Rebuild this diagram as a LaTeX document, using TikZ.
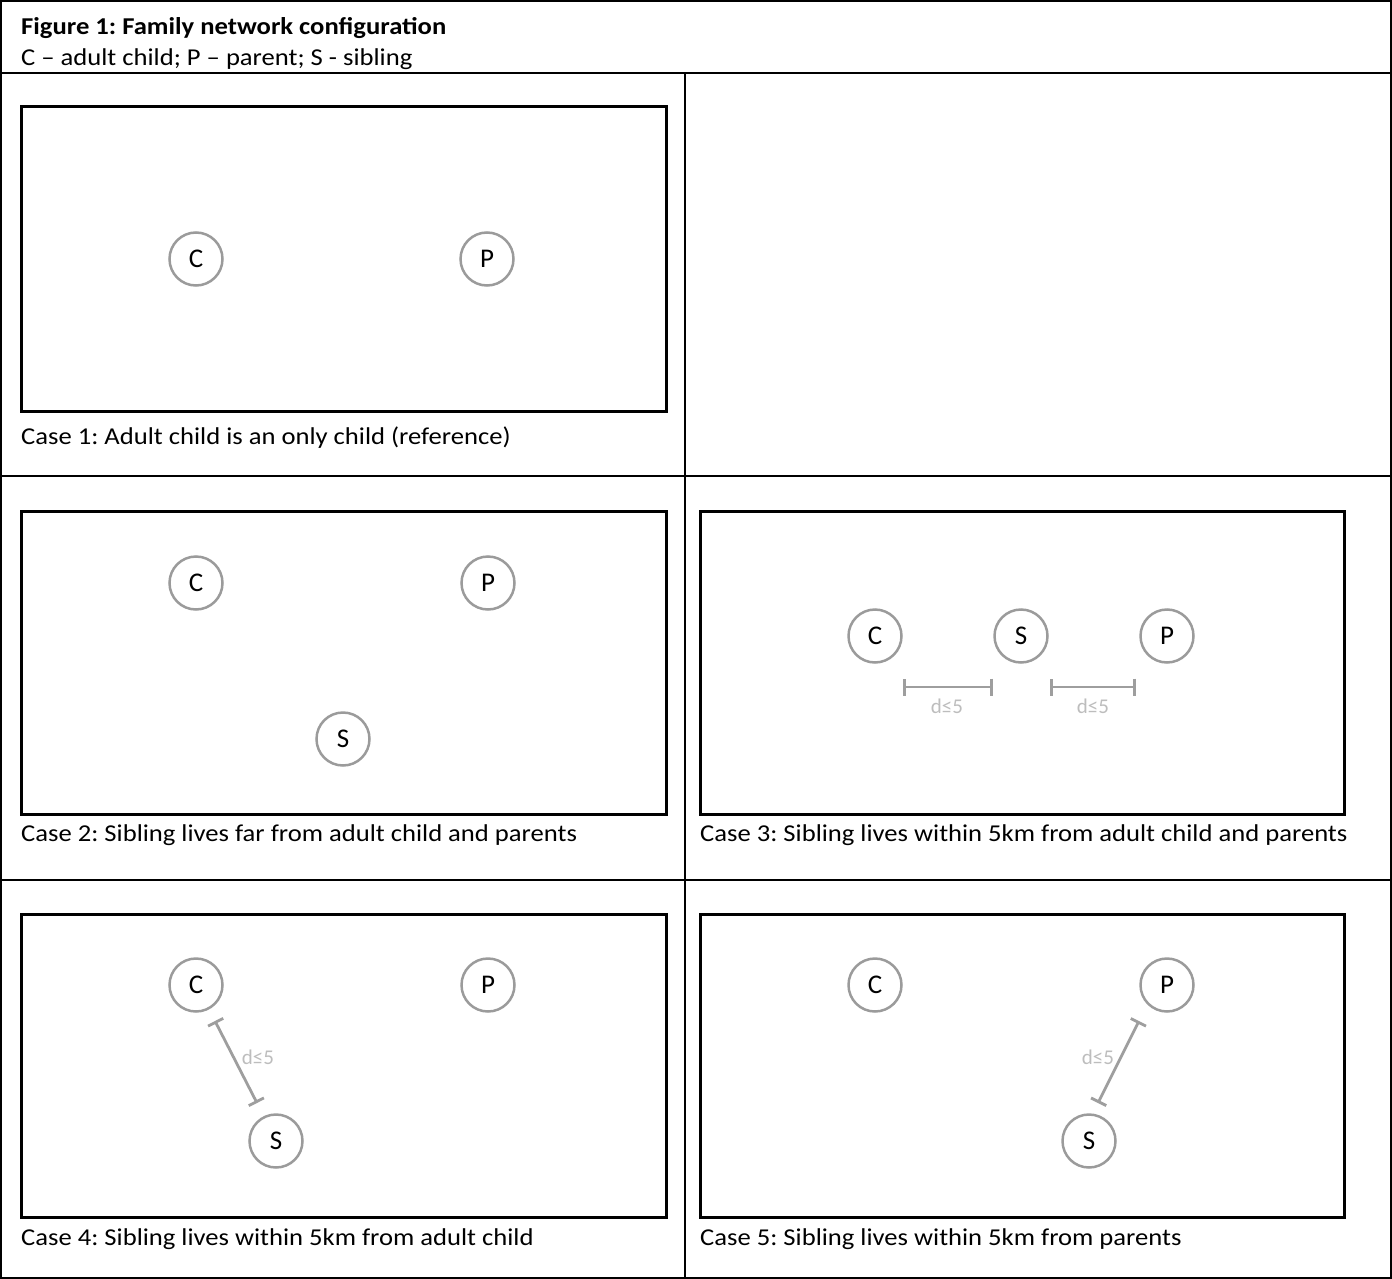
\documentclass[tikz,border=0pt]{standalone}
\usepackage{fontspec}
\setmainfont{Carlito}[FakeStretch=1.1]
\newfontfamily\diagfont{Carlito}
\usetikzlibrary{arrows.meta}
\definecolor{ringgray}{HTML}{9B9B9B}
\definecolor{bargray}{HTML}{9E9E9E}
\definecolor{lblgray}{HTML}{BDBDBD}
\tikzset{
  person/.style={circle,draw=ringgray,line width=2.5pt,minimum size=53pt,inner sep=0pt,font=\diagfont\fontsize{27}{30}\selectfont},
  panel/.style={draw=black,line width=3pt},
  grid/.style={draw=black,line width=2pt},
  dbar/.style={draw=bargray,line width=2.8pt,{Bar[width=17pt,line width=2.8pt]}-{Bar[width=17pt,line width=2.8pt]}},
  dlabel/.style={text=lblgray,font=\diagfont\fontsize{21}{24}\selectfont,inner sep=0pt},
  caption/.style={anchor=base west,inner sep=0pt,font=\fontsize{24.2}{28}\selectfont}
}
\frenchspacing
\begin{document}
\begin{tikzpicture}[x=1pt,y=-1pt]
\useasboundingbox (0,0) rectangle (1392,1279);
% table grid
\draw[grid] (1,1) rectangle (1391,1278);
\draw[grid] (1,73) -- (1391,73);
\draw[grid] (1,476) -- (1391,476);
\draw[grid] (1,880) -- (1391,880);
\draw[grid] (685,73) -- (685,1278);
% header
\node[caption,font=\fontsize{24.2}{28}\selectfont\bfseries] (title) at (21,35) {Figure 1: Family network configuration};
\node[caption] (legend) at (21,66) {C -- adult child; P -- parent; S - sibling};
% panels
\draw[panel] (21,107) rectangle (666,411);
\draw[panel] (21,511) rectangle (666,814);
\draw[panel] (700,511) rectangle (1344,814);
\draw[panel] (21,914) rectangle (666,1217);
\draw[panel] (700,914) rectangle (1344,1217);
% case 1
\node[person] (c1C) at (196,259) {C};
\node[person] (c1P) at (487,259) {P};
\node[caption] (cap1) at (21,444) {Case 1: Adult child is an only child (reference)};
% case 2
\node[person] (c2C) at (196,583) {C};
\node[person] (c2P) at (488,583) {P};
\node[person] (c2S) at (343,739) {S};
\node[caption] (cap2) at (21,841) {Case 2: Sibling lives far from adult child and parents};
% case 3
\node[person] (c3C) at (875,636) {C};
\node[person] (c3S) at (1021,636) {S};
\node[person] (c3P) at (1167,636) {P};
\coordinate (b1a) at (903,687); \coordinate (b1b) at (993,687);
\coordinate (b2a) at (1050,687); \coordinate (b2b) at (1136,687);
\draw[dbar] (b1a) -- (b1b);
\draw[dbar] (b2a) -- (b2b);
\node[dlabel] (d1) at (947,706) {d≤5};
\node[dlabel] (d2) at (1093,706) {d≤5};
\node[caption] (cap3) at (700,841) {Case 3: Sibling lives within 5km from adult child and parents};
% case 4
\node[person] (c4C) at (196,985) {C};
\node[person] (c4P) at (488,985) {P};
\node[person] (c4S) at (276,1141) {S};
\coordinate (b3a) at (215,1021); \coordinate (b3b) at (257,1103);
\draw[dbar] (b3a) -- (b3b);
\node[dlabel] (d3) at (258,1057) {d≤5};
\node[caption] (cap4) at (21,1245) {Case 4: Sibling lives within 5km from adult child};
% case 5
\node[person] (c5C) at (875,985) {C};
\node[person] (c5P) at (1167,985) {P};
\node[person] (c5S) at (1089,1141) {S};
\coordinate (b4a) at (1139,1021); \coordinate (b4b) at (1098,1103);
\draw[dbar] (b4a) -- (b4b);
\node[dlabel] (d4) at (1098,1057) {d≤5};
\node[caption] (cap5) at (700,1245) {Case 5: Sibling lives within 5km from parents};
\end{tikzpicture}
\end{document}
